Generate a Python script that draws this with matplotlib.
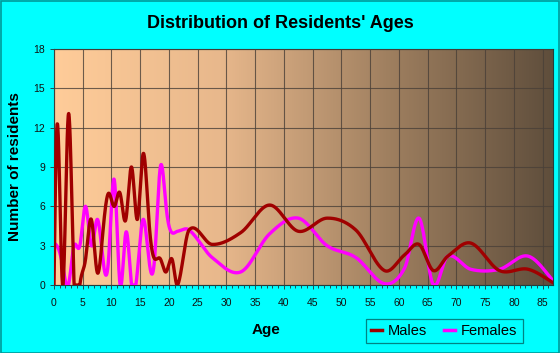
import numpy as np
import matplotlib.pyplot as plt
from matplotlib.lines import Line2D
from matplotlib.colors import LinearSegmentedColormap
from matplotlib.patches import Rectangle

# Age positions (single years at k+0.5, then age-group centres)
ages = [0, 0.5, 1.5, 2.5, 3.5, 4.5, 5.5, 6.5, 7.5, 8.5, 9.5, 10.5, 11.5, 12.5,
        13.5, 14.5, 15.5, 16.5, 17.5, 18.5, 19.5, 20.5, 21.5,
        23.5, 27.5, 32.5, 37.5, 42.5, 47.5, 52.5, 57.5, 61, 63.5, 66, 68.5,
        72.5, 77.5, 82.5, 87.5]
males = [0, 12, 0, 13, 0, 0, 2, 5, 1, 4, 7, 6, 7, 5, 9, 5, 10, 5, 2, 2, 1, 2, 0,
         4.2, 3.1, 4.0, 6.1, 4.1, 5.1, 4.2, 1.1, 2.3, 3.1, 1.1, 2.2, 3.2, 1.1, 1.2, 0]
females = [3.2, 3, 1.5, 0, 3, 3, 6, 3, 5, 2, 2, 8, 0, 4, 0, 1, 5, 2, 2, 9, 6, 4, 4.1,
           4.2, 2.1, 1.0, 3.9, 5.1, 3.0, 2.1, 0.1, 1.3, 5.1, 0, 2.2, 1.2, 1.2, 2.2, 0]

x_ticks = list(range(0, 90, 5))
y_ticks = list(range(0, 19, 3))


# smoothed curve: natural spline slopes for the single years,
# catmull-rom slopes for the wide age groups (less overshoot there)
def smooth(x, y, xs, split=21.5):
    x = np.asarray(x, float)
    y = np.asarray(y, float)
    n = len(x)
    h = np.diff(x)
    A = np.zeros((n, n))
    r = np.zeros(n)
    A[0, 0] = A[-1, -1] = 1
    for i in range(1, n - 1):
        A[i, i - 1] = h[i - 1]
        A[i, i] = 2 * (h[i - 1] + h[i])
        A[i, i + 1] = h[i]
        r[i] = 3 * ((y[i + 1] - y[i]) / h[i] - (y[i] - y[i - 1]) / h[i - 1])
    c = np.linalg.solve(A, r)
    m = np.zeros(n)
    m[:-1] = (y[1:] - y[:-1]) / h - h * (2 * c[:-1] + c[1:]) / 3
    m[-1] = (y[-1] - y[-2]) / h[-1] + h[-1] * (c[-2] + 2 * c[-1]) / 3
    for i in range(n):
        if x[i] >= split:
            if i == n - 1:
                m[i] = (y[i] - y[i - 1]) / h[i - 1]
            else:
                m[i] = (y[i + 1] - y[i - 1]) / (x[i + 1] - x[i - 1])
    idx = np.clip(np.searchsorted(x, xs) - 1, 0, n - 2)
    hh = h[idx]
    t = (xs - x[idx]) / hh
    h00 = 2 * t ** 3 - 3 * t ** 2 + 1
    h10 = t ** 3 - 2 * t ** 2 + t
    h01 = -2 * t ** 3 + 3 * t ** 2
    h11 = t ** 3 - t ** 2
    return h00 * y[idx] + h10 * hh * m[idx] + h01 * y[idx + 1] + h11 * hh * m[idx + 1]


fig = plt.figure(figsize=(5.6, 3.53), dpi=100, facecolor='#00ffff')
ax = fig.add_axes([0.0964, 0.1926, 0.891, 0.6684])

xmax = 86.8
# horizontal gradient background
cmap = LinearSegmentedColormap.from_list('bg', ['#ffcc99', '#e8b88c', '#a08060', '#5f4e3c'])
grad = np.linspace(0, 1, 256).reshape(1, -1)
ax.imshow(grad, cmap=cmap, aspect='auto', extent=[0, xmax, 0, 18], zorder=0)

xs = np.linspace(0, xmax, 2000)
ax.plot(xs, np.clip(smooth(ages, females, xs), 0, None), color='#ff00ff', lw=2.4,
        zorder=3, solid_capstyle='round')
ax.plot(xs, np.clip(smooth(ages, males, xs), 0, None), color='#a00000', lw=2.4,
        zorder=4, solid_capstyle='round')

ax.set_xlim(0, xmax)
ax.set_ylim(0, 18)
ax.set_xticks(x_ticks)
ax.set_xticks(range(0, 87), minor=True)
ax.set_yticks(y_ticks)
ax.grid(True, which='major', color='#4a4038', lw=0.8, alpha=0.8)
ax.set_axisbelow(False)
for gl in ax.get_xgridlines() + ax.get_ygridlines():
    gl.set_zorder(1)
ax.tick_params(axis='both', labelsize=7.5, labelcolor='#111111', color='#1f4f4f',
               length=3, width=0.7)
ax.tick_params(axis='x', pad=6)
ax.tick_params(axis='x', which='minor', length=2.5, width=0.7, color='#1f4f4f')
for s in ax.spines.values():
    s.set_color('#1f3f3f')
    s.set_linewidth(0.8)
ax.set_xlabel('Age', fontsize=11, fontweight='bold', family='Liberation Sans')
ax.xaxis.set_label_coords(0.425, -0.16)
ax.set_ylabel('Number of residents', fontsize=11, fontweight='bold', family='Liberation Sans',
              labelpad=8)
for lab in ax.get_xticklabels() + ax.get_yticklabels():
    lab.set_family('Liberation Sans')

fig.text(0.5, 0.933, "Distribution of Residents' Ages", ha='center', va='center',
         fontsize=13, fontweight='bold', family='Liberation Sans')

handles = [Line2D([], [], color='#a00000', lw=2.5), Line2D([], [], color='#ff00ff', lw=2.5)]
leg = fig.legend(handles, ['Males', 'Females'], loc='center', bbox_to_anchor=(0.793, 0.0615),
                 ncol=2, frameon=True, fancybox=False, facecolor='#00ffff', edgecolor='#006666',
                 handlelength=0.8, handletextpad=0.4, columnspacing=1.1, borderpad=0.35,
                 prop={'family': 'Liberation Sans', 'size': 10.5})
leg.get_frame().set_linewidth(0.9)

fig.patches.append(Rectangle((0.001, 0.001), 0.997, 0.997, transform=fig.transFigure,
                             fill=False, edgecolor='#009999', lw=1.2))

fig.savefig('out.png', dpi=100, facecolor='#00ffff')
